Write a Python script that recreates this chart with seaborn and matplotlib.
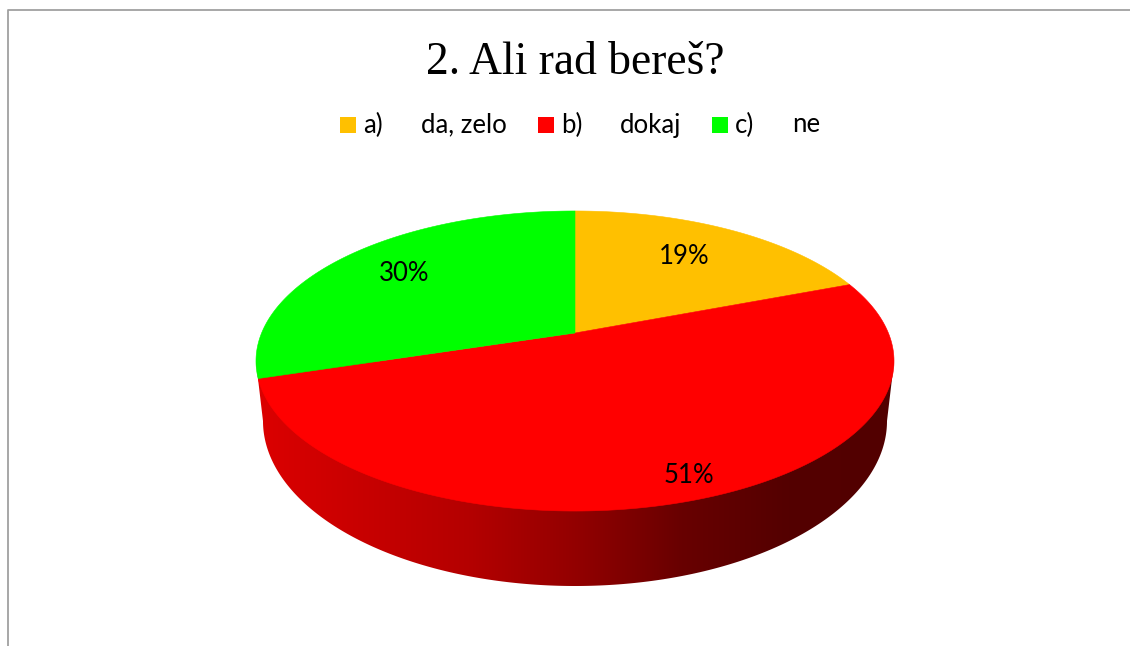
"""Perspective pie chart: 2. Ali rad bereš?"""

import matplotlib

matplotlib.use("Agg")
import matplotlib.pyplot as plt
import numpy as np
import seaborn as sns
from matplotlib.patches import Polygon, Rectangle

TITLE = "2. Ali rad bereš?"
OPTIONS = ["a)", "b)", "c)"]
ANSWERS = ["da, zelo", "dokaj", "ne"]
SHARES = [19.2, 51.0, 29.8]
COLORS = ["#ffc000", "#ff0000", "#00ff00"]
WALL_SHADES = ["#dc0000", "#c80000", "#b40000", "#930000", "#680000", "#540000", "#520000"]

# pie geometry, in pixels
WIDTH, HEIGHT = 1130, 646
APEX_X, APEX_Y = 575, 333
SCALE_X, SCALE_Y, TILT = 313.4, 144.8, 0.1867
WALL_RX, WALL_RY, WALL_CY = 312, 165, 421
LABEL_RADII = [0.69, 0.89, 0.73]
LABEL_NUDGE_X = [-2, 6, 0]
LABEL_LIFT = 2
LABEL_SIZE = 18.5


def project(fraction, radius=1.0):
    """Map a position around the pie (0-1, clockwise from top) to the canvas."""
    angle = 2 * np.pi * np.asarray(fraction)
    u = radius * np.sin(angle)
    v = radius * np.cos(angle)
    depth = 1 + TILT * v
    return APEX_X + SCALE_X * u / depth, APEX_Y - SCALE_Y * v / depth


def draw_wall(ax):
    top_x, top_y = project(np.linspace(0, 1, 721))
    sweep = np.linspace(0, np.pi, 361)
    low_x = APEX_X + WALL_RX * np.cos(sweep)
    low_y = WALL_CY + WALL_RY * np.sin(sweep)
    outline = np.vstack([
        [top_x.max(), top_y[top_x.argmax()]],
        np.column_stack([low_x, low_y]),
        [top_x.min(), top_y[top_x.argmin()]],
    ])
    clip = Polygon(outline, closed=True, transform=ax.transData, facecolor="none", edgecolor="none")
    ax.add_patch(clip)

    shades = sns.blend_palette(WALL_SHADES, n_colors=256)
    gradient = np.array(shades)[np.newaxis, :, :]
    image = ax.imshow(
        gradient,
        extent=(top_x.min(), top_x.max(), low_y.max(), top_y.min()),
        aspect="auto",
        interpolation="bilinear",
        zorder=1,
    )
    image.set_clip_path(clip)


def draw_top(ax):
    edges = np.cumsum([0] + SHARES) / sum(SHARES)
    for start, stop, color in zip(edges[:-1], edges[1:], COLORS):
        steps = np.linspace(start, stop, 200)
        xs, ys = project(steps)
        ax.fill(
            np.r_[APEX_X, xs],
            np.r_[APEX_Y, ys],
            facecolor=color,
            edgecolor=color,
            linewidth=0.4,
            zorder=2,
        )
    for i, share in enumerate(SHARES):
        mid = edges[i] + share / sum(SHARES) / 2
        x, y = project(mid, radius=LABEL_RADII[i])
        ax.text(x + LABEL_NUDGE_X[i], y - LABEL_LIFT, f"{share:.0f}%", ha="center", va="center",
                fontsize=LABEL_SIZE, color="black", zorder=3)


def draw_legend(ax):
    swatch_x = [340, 538, 712]
    option_x = [363, 561, 735]
    answer_x = [421, 620, 792]
    for i, option in enumerate(OPTIONS):
        ax.add_patch(Rectangle((swatch_x[i], 117), 16, 16, facecolor=COLORS[i], edgecolor="none"))
        ax.text(option_x[i], 125, option, ha="left", va="center", fontsize=LABEL_SIZE, color="black")
        ax.text(answer_x[i], 125, ANSWERS[i], ha="left", va="center", fontsize=LABEL_SIZE, color="black")


sns.set_theme(style="white")
plt.rcParams["font.family"] = ["Lato", "DejaVu Sans"]

fig, ax = plt.subplots(figsize=(WIDTH / 100, HEIGHT / 100), dpi=100)
ax.set_position([0, 0, 1, 1])
ax.set_axis_off()

draw_wall(ax)
draw_top(ax)
draw_legend(ax)

ax.text(575, 63, TITLE, ha="center", va="center", fontsize=32.8, family="Liberation Serif", color="black")

# chart frame, cut off at the right and bottom of the screenshot
ax.plot([8, 8, WIDTH], [HEIGHT, 10, 10], color="#a0a0a0", linewidth=1.3, zorder=4)

ax.set_xlim(0, WIDTH)
ax.set_ylim(HEIGHT, 0)
fig.savefig("out.png", dpi=100)
